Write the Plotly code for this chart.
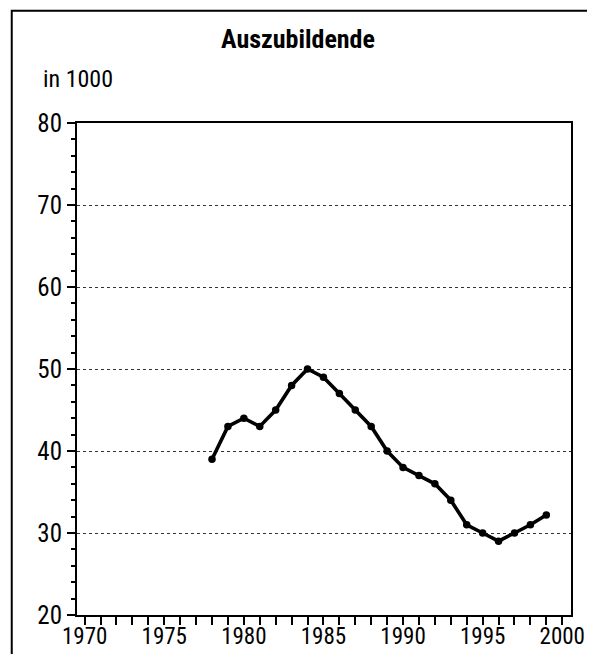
import plotly.graph_objects as go

years = [1978, 1979, 1980, 1981, 1982, 1983, 1984, 1985, 1986, 1987, 1988,
         1989, 1990, 1991, 1992, 1993, 1994, 1995, 1996, 1997, 1998, 1999]
auszubildende = [39, 43, 44, 43, 45, 48, 50, 49, 47, 45, 43,
                 40, 38, 37, 36, 34, 31, 30, 29, 30, 31, 32.2]

x_ticks = [1970, 1975, 1980, 1985, 1990, 1995, 2000]
y_ticks = [20, 30, 40, 50, 60, 70, 80]

FONT = "Roboto Condensed, Liberation Sans Narrow, Arial Narrow, Liberation Sans, sans-serif"

fig = go.Figure()
fig.add_trace(go.Scatter(
    x=years, y=auszubildende, mode="lines+markers",
    line=dict(color="black", width=3.6),
    marker=dict(color="black", size=7.5),
    showlegend=False, hoverinfo="skip",
))

# page body has an 8px margin: figure occupies screen x 8..595, y 8..654
fig.update_layout(
    width=587, height=646,
    margin=dict(l=69, r=24, t=115, b=39, autoexpand=False),
    paper_bgcolor="white", plot_bgcolor="white",
    font=dict(family=FONT, color="black", size=24),
    showlegend=False,
)

fig.update_xaxes(
    range=[1969.52, 2000.55], automargin=False,
    tickmode="array", tickvals=x_ticks, ticktext=[str(v) for v in x_ticks],
    ticks="outside", ticklen=8, tickwidth=2, tickcolor="black",
    ticklabelstandoff=-9,
    minor=dict(dtick=1, tick0=1970, ticks="outside", ticklen=8, tickwidth=2, tickcolor="black", showgrid=False),
    showline=True, linecolor="black", linewidth=2, mirror=True,
    showgrid=False, zeroline=False,
    tickfont=dict(family=FONT, size=23, color="black"),
)
fig.update_yaxes(
    range=[20, 80], automargin=False,
    tickmode="array", tickvals=y_ticks, ticktext=[str(v) for v in y_ticks],
    ticks="outside", ticklen=8, tickwidth=2, tickcolor="black",
    minor=dict(dtick=2, tick0=20, ticks="outside", ticklen=4, tickwidth=2, tickcolor="black", showgrid=False),
    showline=True, linecolor="black", linewidth=2, mirror=True,
    showgrid=True, gridcolor="#333333", gridwidth=1, griddash="dot",
    zeroline=False,
    tickfont=dict(family=FONT, size=25, color="black"),
)

# outer frame
fig.add_shape(type="rect", xref="paper", yref="paper",
              x0=-0.1321, x1=1.0449, y0=-0.095, y1=1.2283,
              line=dict(color="black", width=2), fillcolor="rgba(0,0,0,0)", layer="above")

fig.add_annotation(text="<b>Auszubildende</b>", xref="paper", yref="paper",
                   x=0.447, y=1.170, xanchor="center", yanchor="middle",
                   showarrow=False, font=dict(family=FONT, size=26, color="black"))
fig.add_annotation(text="in 1000", xref="paper", yref="paper",
                   x=-0.072, y=1.090, xanchor="left", yanchor="middle",
                   showarrow=False, font=dict(family=FONT, size=24, color="black"))

fig.write_html("out.html")
